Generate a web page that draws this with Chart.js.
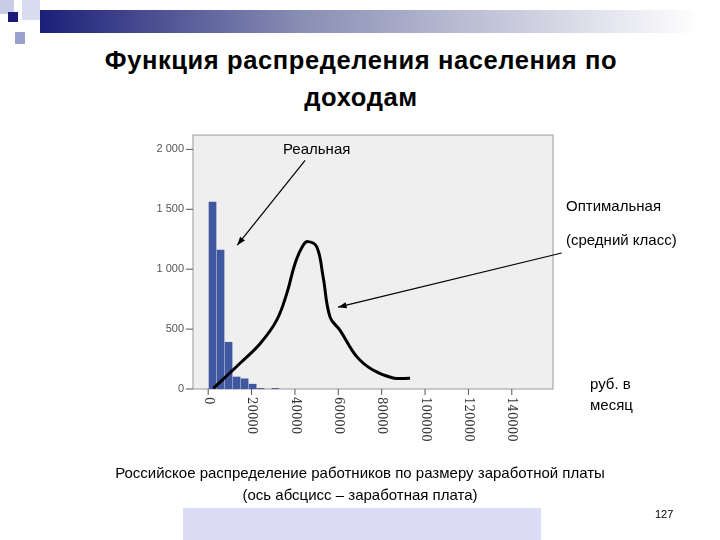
<!DOCTYPE html>
<html><head><meta charset="utf-8">
<script src="https://cdn.jsdelivr.net/npm/chart.js@4"></script>
<style>
body{margin:0;width:720px;height:540px;position:relative;background:#fff;font-family:"Liberation Sans",Arial,sans-serif;overflow:hidden}
.t{position:absolute;white-space:nowrap}
canvas{position:absolute;left:0;top:0}
</style></head><body>
<div style="position:absolute;left:40px;top:10px;width:660px;height:23px;background:linear-gradient(90deg,#1c1f78,#8a8fb5 40%,#fff)"></div>
<div style="position:absolute;left:0;top:0;width:14px;height:14px;background:#c8cce6"></div>
<div style="position:absolute;left:8px;top:12px;width:10px;height:10px;background:#1a1a7a"></div>
<div style="position:absolute;left:22px;top:0;width:18px;height:20px;background:#d8dcef"></div>
<div style="position:absolute;left:15px;top:32px;width:10px;height:12px;background:#9aa0cc"></div>
<div class="t" style="left:0;width:722px;top:42px;text-align:center;font-size:25.5px;font-weight:bold;line-height:37px;letter-spacing:0.6px">Функция распределения населения по<br>доходам</div>
<canvas id="c" width="720" height="540"></canvas>
<div class="t" style="left:283px;top:140px;font-size:15px">Реальная</div>
<div class="t" style="left:566px;top:197px;font-size:15px">Оптимальная</div>
<div class="t" style="left:566px;top:231px;font-size:15px">(средний класс)</div>
<div class="t" style="left:590px;top:373px;font-size:15px;line-height:21px">руб. в<br>месяц</div>
<div class="t" style="left:0;width:720px;top:462px;text-align:center;font-size:15px;line-height:22px">Российское распределение работников по размеру заработной платы<br>(ось абсцисс – заработная плата)</div>
<div style="position:absolute;left:183px;top:508px;width:358px;height:32px;background:#dcdcf7"></div>
<div class="t" style="left:655px;top:508px;font-size:11px">127</div>
<script>
const barX=[2000,5700,9400,13100,16800,20500,24200,31000];
const barY=[1560,1160,390,100,85,40,5,5];
const curveX=[2400,14700,24000,31600,36300,40100,43800,46100,50100,53000,56200,60800,68500,76000,85300,93100];
const curveY=[5,215,380,575,800,1050,1200,1230,1185,935,600,490,270,158,92,90];
const xTicks=[0,20000,40000,60000,80000,100000,120000,140000];
const yTicks=[0,500,1000,1500,2000];
const yTickLabels=["0","500","1 000","1 500","2 000"];
const deco={id:'deco',
beforeDraw(ch){const {ctx,chartArea:a}=ch;ctx.save();ctx.fillStyle='#efefef';ctx.fillRect(a.left,a.top,a.right-a.left,a.bottom-a.top);ctx.strokeStyle='#999';ctx.lineWidth=1;ctx.strokeRect(a.left,a.top,a.right-a.left,a.bottom-a.top);ctx.restore();},
afterDraw(ch){const {ctx,chartArea:a,scales:{x,y}}=ch;ctx.save();ctx.fillStyle='#555';ctx.strokeStyle='#555';ctx.font='11px "Liberation Sans"';
ctx.textAlign='right';ctx.textBaseline='middle';
yTicks.forEach((v,i)=>{const py=y.getPixelForValue(v);ctx.beginPath();ctx.moveTo(a.left-7,py);ctx.lineTo(a.left,py);ctx.stroke();ctx.fillText(yTickLabels[i],a.left-9,py);});
xTicks.forEach(v=>{const px=x.getPixelForValue(v);ctx.beginPath();ctx.moveTo(px,a.bottom);ctx.lineTo(px,a.bottom+6);ctx.stroke();ctx.save();ctx.translate(px,a.bottom+8);ctx.rotate(Math.PI/2);ctx.textAlign='left';ctx.font='13px "DejaVu Serif Condensed","Liberation Serif"';ctx.fillStyle='#333';ctx.fillText(String(v),0,0);ctx.restore();});
const arrow=(x1,y1,x2,y2)=>{ctx.strokeStyle='#000';ctx.fillStyle='#000';ctx.lineWidth=1.2;const X1=x.getPixelForValue(x1),Y1=y.getPixelForValue(y1),X2=x.getPixelForValue(x2),Y2=y.getPixelForValue(y2);ctx.beginPath();ctx.moveTo(X1,Y1);ctx.lineTo(X2,Y2);ctx.stroke();const ang=Math.atan2(Y2-Y1,X2-X1);ctx.beginPath();ctx.moveTo(X2,Y2);ctx.lineTo(X2-9*Math.cos(ang-0.35),Y2-9*Math.sin(ang-0.35));ctx.lineTo(X2-9*Math.cos(ang+0.35),Y2-9*Math.sin(ang+0.35));ctx.closePath();ctx.fill();};
arrow(44700,1908,13400,1200);arrow(163000,1135,59900,683);
ctx.restore();}};
new Chart(document.getElementById('c'),{
data:{datasets:[
{type:'line',data:curveX.map((v,i)=>({x:v,y:curveY[i]})),borderColor:'#000',borderWidth:3,pointRadius:0,tension:0.4,fill:false},
{type:'bar',data:barX.map((v,i)=>({x:v,y:barY[i]})),backgroundColor:'#3f58a0',barThickness:7}
]},
options:{responsive:false,animation:false,events:[],
layout:{padding:{left:193,top:135,right:167,bottom:151}},
plugins:{legend:{display:false},tooltip:{enabled:false}},
scales:{x:{type:'linear',offset:false,min:-7000,max:159000,display:false},y:{min:0,max:2120,display:false}}},
plugins:[deco]});
</script></body></html>
